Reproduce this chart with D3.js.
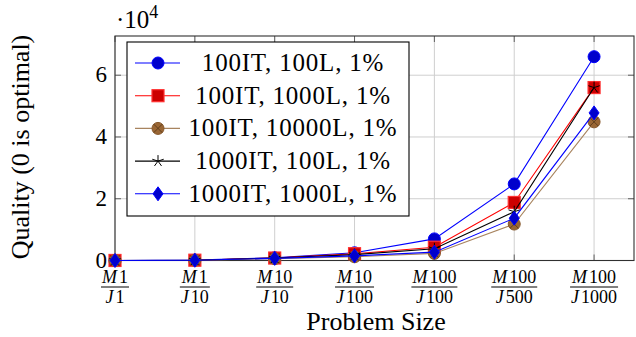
<!DOCTYPE html>
<html>
<head>
<meta charset="utf-8">
<script src="https://cdn.jsdelivr.net/npm/d3@7"></script>
<style>
  body { margin: 0; background: #fff; }
  text { font-family: "Liberation Serif", "Times New Roman", serif; fill: #000; }
</style>
</head>
<body>
<script>
// problem sizes (x categories), numerator M and denominator J
var mSizes = ['1', '1', '10', '10', '100', '100', '100'];
var jSizes = ['1', '10', '10', '100', '100', '500', '1000'];

// quality values per configuration
var it100_l100 = [10, 150, 900, 2500, 7000, 24800, 66000];
var it100_l1000 = [10, 100, 800, 2200, 4300, 18800, 56000];
var it100_l10000 = [10, 80, 600, 1200, 2300, 11800, 44900];
var it1000_l100 = [10, 100, 800, 1900, 3800, 15800, 56000];
var it1000_l1000 = [10, 80, 700, 1500, 2700, 13700, 47800];

var seriesNames = ['100IT, 100L, 1%', '100IT, 1000L, 1%', '100IT, 10000L, 1%', '1000IT, 100L, 1%', '1000IT, 1000L, 1%'];
var yTicks = [0, 20000, 40000, 60000];

var width = 636, height = 337;
var pLeft = 115, pRight = 634, pTop = 36, pBottom = 260.5;

var series = [
  {name: seriesNames[0], values: it100_l100, line: '#0000ff', mark: 'circle', fill: '#0000cc', stroke: '#0000ff'},
  {name: seriesNames[1], values: it100_l1000, line: '#ff0000', mark: 'square', fill: '#cc0000', stroke: '#ff3030'},
  {name: seriesNames[2], values: it100_l10000, line: '#a8845f', mark: 'otimes', fill: '#9a6634', stroke: '#86582c'},
  {name: seriesNames[3], values: it1000_l100, line: '#000000', mark: 'star', fill: 'none', stroke: '#000000'},
  {name: seriesNames[4], values: it1000_l1000, line: '#0000ff', mark: 'diamond', fill: '#0000cc', stroke: '#0000ff'}
];

var svg = d3.select('body').append('svg')
  .attr('width', width).attr('height', height);

var x = d3.scaleLinear().domain([0, 6.5]).range([pLeft, pRight]);
var y = d3.scaleLinear().domain([0, 72700]).range([pBottom, pTop]);

// grid
var grid = svg.append('g').attr('stroke', '#cfcfcf').attr('stroke-width', 1);
grid.selectAll('.gx').data(d3.range(mSizes.length)).enter().append('line')
  .attr('x1', d => x(d)).attr('x2', d => x(d)).attr('y1', pTop).attr('y2', pBottom);
grid.selectAll('.gy').data(yTicks).enter().append('line')
  .attr('x1', pLeft).attr('x2', pRight).attr('y1', d => y(d)).attr('y2', d => y(d));

// ticks (inside, all four sides)
var ticks = svg.append('g').attr('stroke', '#606060').attr('stroke-width', 1);
d3.range(mSizes.length).forEach(function(i){
  ticks.append('line').attr('x1', x(i)).attr('x2', x(i)).attr('y1', pBottom).attr('y2', pBottom - 6);
  ticks.append('line').attr('x1', x(i)).attr('x2', x(i)).attr('y1', pTop).attr('y2', pTop + 6);
});
yTicks.forEach(function(v){
  ticks.append('line').attr('x1', pLeft).attr('x2', pLeft + 6).attr('y1', y(v)).attr('y2', y(v));
  ticks.append('line').attr('x1', pRight).attr('x2', pRight - 6).attr('y1', y(v)).attr('y2', y(v));
});

// frame
svg.append('rect')
  .attr('x', pLeft).attr('y', pTop).attr('width', pRight - pLeft).attr('height', pBottom - pTop)
  .attr('fill', 'none').attr('stroke', '#303030').attr('stroke-width', 1.1);

// y tick labels
svg.append('g').selectAll('text').data(yTicks).enter().append('text')
  .attr('x', pLeft - 8).attr('y', d => y(d) + 7)
  .attr('text-anchor', 'end').attr('font-size', '23px')
  .text(d => d / 10000);

// scale label
var sc = svg.append('text').attr('x', 116).attr('y', 28).attr('font-size', '25px');
sc.append('tspan').text('\u00b710');
sc.append('tspan').attr('font-size', '18px').attr('dy', -10).text('4');

// x tick labels as fractions
var fr = svg.append('g').selectAll('g').data(d3.range(mSizes.length)).enter().append('g')
  .attr('transform', d => 'translate(' + x(d) + ',0)');
fr.each(function(i){
  var g = d3.select(this);
  var num = g.append('text').attr('y', 283).attr('text-anchor', 'middle').attr('font-size', '18px');
  num.append('tspan').attr('font-style', 'italic').text('M');
  num.append('tspan').attr('dx', 2).text(mSizes[i]);
  var den = g.append('text').attr('y', 303).attr('text-anchor', 'middle').attr('font-size', '18px');
  den.append('tspan').attr('font-style', 'italic').text('J');
  den.append('tspan').attr('dx', 2).text(jSizes[i]);
  var w = Math.max(num.node().getComputedTextLength(), den.node().getComputedTextLength()) + 4;
  g.append('line').attr('x1', -w / 2).attr('x2', w / 2).attr('y1', 287).attr('y2', 287)
    .attr('stroke', '#000').attr('stroke-width', 1);
});

// axis labels
svg.append('text').attr('x', 376).attr('y', 330).attr('text-anchor', 'middle')
  .attr('font-size', '26px').text('Problem Size');
svg.append('text').attr('transform', 'translate(29,147) rotate(-90)').attr('text-anchor', 'middle')
  .attr('font-size', '26px').text('Quality (0 is optimal)');

// markers
function drawMark(g, s, cx, cy) {
  if (s.mark == 'circle') {
    g.append('circle').attr('cx', cx).attr('cy', cy).attr('r', 6)
      .attr('fill', s.fill).attr('stroke', s.stroke).attr('stroke-width', 1);
  } else if (s.mark == 'square') {
    g.append('rect').attr('x', cx - 6).attr('y', cy - 6).attr('width', 12).attr('height', 12)
      .attr('fill', s.fill).attr('stroke', s.stroke).attr('stroke-width', 1.2);
  } else if (s.mark == 'otimes') {
    g.append('circle').attr('cx', cx).attr('cy', cy).attr('r', 6)
      .attr('fill', s.fill).attr('stroke', s.stroke).attr('stroke-width', 1);
    var d = 4.2;
    g.append('path').attr('d', 'M' + (cx - d) + ',' + (cy - d) + 'L' + (cx + d) + ',' + (cy + d) +
      'M' + (cx - d) + ',' + (cy + d) + 'L' + (cx + d) + ',' + (cy - d))
      .attr('stroke', '#5a3a1a').attr('stroke-width', 0.9);
  } else if (s.mark == 'star') {
    var p = '';
    for (var k = 0; k < 5; k++) {
      var a = -Math.PI / 2 + k * 2 * Math.PI / 5;
      p += 'M' + cx + ',' + cy + 'L' + (cx + 6 * Math.cos(a)) + ',' + (cy + 6 * Math.sin(a));
    }
    g.append('path').attr('d', p).attr('stroke', s.stroke).attr('stroke-width', 1).attr('fill', 'none');
  } else if (s.mark == 'diamond') {
    g.append('path').attr('d', 'M' + cx + ',' + (cy - 7) + 'L' + (cx + 5) + ',' + cy + 'L' + cx + ',' + (cy + 7) +
      'L' + (cx - 5) + ',' + cy + 'Z')
      .attr('fill', s.fill).attr('stroke', s.stroke).attr('stroke-width', 1);
  }
}

var line = d3.line().x((d, i) => x(i)).y(d => y(d));
series.forEach(function(s){
  var g = svg.append('g');
  g.append('path').attr('d', line(s.values)).attr('fill', 'none')
    .attr('stroke', s.line).attr('stroke-width', 1.1);
  s.values.forEach(function(v, i){ drawMark(g, s, x(i), y(v)); });
});

// legend
var lg = svg.append('g');
lg.append('rect').attr('x', 127).attr('y', 42).attr('width', 282).attr('height', 174)
  .attr('fill', '#fff').attr('stroke', '#000').attr('stroke-width', 1.1);
series.forEach(function(s, i){
  var cy = 63 + i * 32.7;
  lg.append('line').attr('x1', 135).attr('x2', 180).attr('y1', cy).attr('y2', cy)
    .attr('stroke', s.line).attr('stroke-width', 1.1);
  drawMark(lg, s, 158, cy);
  lg.append('text').attr('x', 293).attr('y', cy + 8).attr('text-anchor', 'middle')
    .attr('font-size', '25px').attr('letter-spacing', '0.8px').text(s.name);
});
</script>
</body>
</html>
